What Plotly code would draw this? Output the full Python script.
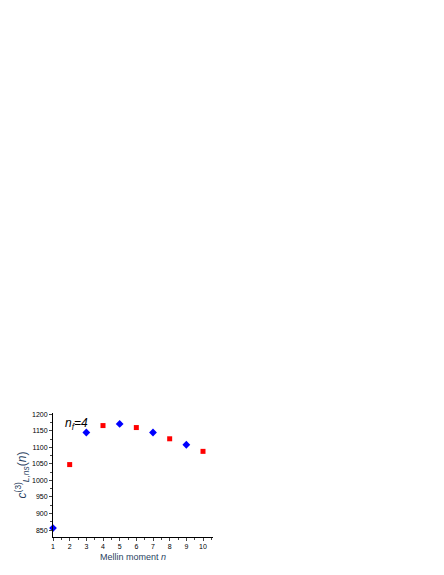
import plotly.graph_objects as go

# Mellin moments, odd ones (blue diamonds) and even ones (red squares)
n_odd = [1, 3, 5, 7, 9]
c_odd = [856, 1145, 1171, 1145, 1108]
n_even = [2, 4, 6, 8, 10]
c_even = [1048, 1166, 1160, 1126, 1088]

y_ticks = [850, 900, 950, 1000, 1050, 1100, 1150, 1200]
x_ticks = [1, 2, 3, 4, 5, 6, 7, 8, 9, 10]

fig = go.Figure()
fig.add_trace(go.Scatter(x=n_odd, y=c_odd, mode="markers",
                         marker=dict(symbol="diamond", size=6, color="#0000ff"),
                         cliponaxis=False, showlegend=False))
fig.add_trace(go.Scatter(x=n_even, y=c_even, mode="markers",
                         marker=dict(symbol="square", size=5, color="#ff0000"),
                         cliponaxis=False, showlegend=False))

axis_font = dict(family="Liberation Sans, Arial", size=7, color="black")
fig.update_xaxes(range=[1, 10.6], tickvals=x_ticks, ticks="outside", ticklen=3,
                 showgrid=False, zeroline=False, showline=True, linecolor="black",
                 linewidth=1, tickfont=axis_font,
                 minor=dict(ticks="outside", ticklen=2, dtick=0.5, tick0=1),
                 title=dict(text="Mellin moment <i>n</i>",
                            font=dict(family="Liberation Sans, Arial", size=9), standoff=4))
fig.update_yaxes(range=[829, 1204], tickvals=y_ticks, ticks="outside", ticklen=3,
                 showgrid=False, zeroline=False, showline=True, linecolor="black",
                 linewidth=1, tickfont=axis_font,
                 minor=dict(ticks="outside", ticklen=2, dtick=25, tick0=850),
                 title=dict(text="<i>c</i><sup>(3)</sup><sub><i>L,ns</i></sub>(<i>n</i>)",
                            font=dict(family="Liberation Sans, Arial", size=12), standoff=2))

fig.add_annotation(x=0.06, y=0.91, xref="paper", yref="paper", xanchor="left",
                   yanchor="middle", showarrow=False,
                   text="<i>n<sub>f</sub>=4</i>",
                   font=dict(family="Liberation Sans, Arial", size=12, color="black"))

fig.update_layout(width=444, height=575, plot_bgcolor="white", paper_bgcolor="white",
                  margin=dict(l=45, r=239, t=405, b=46), showlegend=False)

fig.write_html("out.html")
